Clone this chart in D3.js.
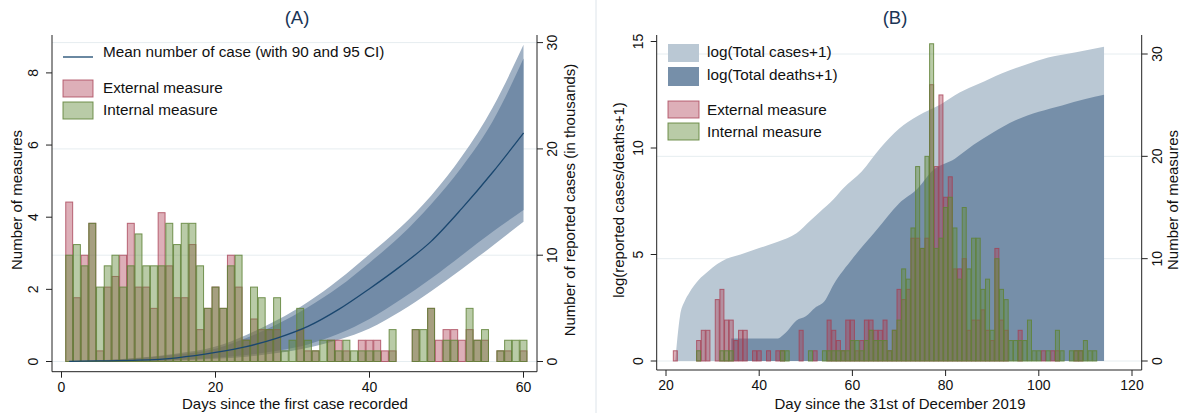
<!DOCTYPE html>
<html><head><meta charset="utf-8">
<script src="https://cdn.jsdelivr.net/npm/d3@7"></script>
<style>body{margin:0;background:#fff;} svg{display:block;font-family:"Liberation Sans",Arial,sans-serif;}</style>
</head><body><svg id="c" width="1182" height="413"></svg>
<script>
// ---------- Panel A data ----------
const daysA = d3.range(1, 61);
const externalA = [15,6,10,13,1,7,8,10,13,7, 7,5,14,9,6,6,11,3,5,7, 5,10,7,2,4,3,3,3,0,0, 3,1,1,0,2,2,1,0,2,2, 2,1,1,0,0,3,0,5,2,3, 3,2,3,2,2,0,1,1,0,1];
const internalA = [10,11,9,13,7,9,10,7,9,12, 9,9,9,13,11,13,13,9,5,7, 5,9,10,2,7,6,3,6,1,2, 5,2,1,2,2,1,2,1,1,1, 1,0,3,0,0,3,3,5,0,2, 2,0,5,2,3,0,1,2,2,2];
const bandDays = [1,5,10,15,20,24,28,32,36,40,44,48,52,56,60];
const meanCases = [0.02,0.05,0.12,0.35,0.85,1.4,2.2,3.3,4.9,6.85,8.95,11.3,14.4,17.8,21.5];
const hi95 = [0.05,0.12,0.35,0.75,1.4,2.5,3.9,5.6,7.7,10.1,12.6,15.6,19.3,23.9,29.8];
const hi90 = [0.04,0.1,0.3,0.65,1.2,2.2,3.5,5.1,7.0,9.3,11.8,14.8,18.3,22.6,28.5];
const lo90 = [0.0,0.02,0.05,0.15,0.35,0.6,1.0,1.6,2.6,4.0,5.8,7.8,10.0,12.2,14.25];
const lo95 = [0.0,0.01,0.03,0.1,0.25,0.45,0.8,1.3,2.05,3.1,4.7,6.6,8.7,10.9,13.15];
const ticksAx = [0,20,40,60];
const ticksAleft = [0,2,4,6,8];
const ticksAright = [0,10,20,30];

// ---------- Panel B data ----------
const daysB = d3.range(22, 113);
const externalB = [1,0,0,0,0,2,3,3,0,6, 7,4,4,2,3,3,0,1,1,0, 1,0,1,1,0,0,0,3,0,0, 1,0,0,4,3,2,1,4,4,1, 2,4,4,3,3,4,1,3,7,6, 7,12,12,11,12,27,19,26,16,18, 9,9,10,3,4,4,5,3,2,11, 4,3,0,0,3,0,0,0,0,1, 0,1,1,0,0,0,1,1,0,0,0];
const internalB = [0,0,0,0,0,1,0,0,0,0, 1,1,1,0,0,0,0,0,0,0, 0,0,0,1,1,0,0,0,0,1, 0,0,1,1,1,1,1,1,2,2, 1,2,3,2,2,2,1,3,4,9, 8,13,19,11,20,31,11,12,15,16, 13,8,15,9,12,12,7,8,3,10, 7,6,2,2,2,2,4,1,1,0, 1,0,3,1,0,1,1,1,2,1,1];
const casesDays = [22,23,24,25,27,29,31,33,36,40,44,48,51,53,56,58,62,66,70,74,79,83,87,92,97,102,108,114];
const casesLog = [0,2.1,2.8,3.2,3.8,4.2,4.55,4.8,5.0,5.3,5.6,6.0,6.6,7.0,7.6,8.1,8.9,10.0,10.9,11.5,12.05,12.6,13.0,13.5,13.9,14.25,14.5,14.75];
const deathsDays = [34,44,45,46,48,50,52,54,56,60,65,70,74,77,82,86,90,95,100,105,110,114];
const deathsLog = [1.06,1.06,1.2,1.4,1.9,2.1,2.5,2.8,3.6,4.8,6.1,7.4,8.1,8.9,9.5,10.15,10.7,11.3,11.7,12.0,12.3,12.5];
const ticksBx = [20,40,60,80,100,120];
const ticksBleft = [0,5,10,15];
const ticksBright = [0,10,20,30];

// ---------- styles ----------
const NAVY = "#1a476f";
const BAND95 = "#a0b1c4", BAND90 = "#728ba7";
const CASES = "#bac8d4", DEATHS = "#768fa9";
const RED_FILL = "rgba(175,65,85,0.42)", RED_STROKE = "rgba(165,60,80,0.75)";
const GRN_FILL = "rgba(100,140,60,0.45)", GRN_STROKE = "rgba(95,130,55,0.85)";
const GRID = "#e6edf0", AXIS = "#222";
const TITLE_SIZE = 15, LEG_SIZE = 15.3;

const svg = d3.select("#c");

svg.append("line").attr("x1",596).attr("x2",596).attr("y1",0).attr("y2",413).attr("stroke","#dde4ea").attr("stroke-width",1);

function vText(g, x, y, txt, size){
  g.append("text").attr("transform",`translate(${x},${y}) rotate(-90)`)
   .attr("text-anchor","middle").attr("font-size",size).attr("fill","#111").text(txt);
}
function yAxis(g, scale, ticks, x, side, labOff){
  ticks.forEach(t=>{
    const y = scale(t);
    g.append("line").attr("x1",x).attr("x2",x + (side==="left"?-6:6)).attr("y1",y).attr("y2",y).attr("stroke",AXIS);
    g.append("text").attr("transform",`translate(${x+labOff},${y}) rotate(-90)`).attr("text-anchor","middle")
      .attr("font-size",14).attr("fill","#111").text(t);
  });
}
function xAxis(g, scale, ticks, y){
  ticks.forEach(t=>{
    const x = scale(t);
    g.append("line").attr("x1",x).attr("x2",x).attr("y1",y).attr("y2",y+6).attr("stroke",AXIS);
    g.append("text").attr("x",x).attr("y",y+20).attr("text-anchor","middle").attr("font-size",14).attr("fill","#111").text(t);
  });
}

// ================= Panel A =================
{
  const L = 52, R = 537, T = 35, B = 371.7;
  const x = d3.scaleLinear().domain([0,60]).range([61.5, 523.5]);
  const yR = d3.scaleLinear().domain([0,30]).range([361.5, 42.6]);
  const yL = d3.scaleLinear().domain([0,8]).range([361.5, 72.9]);
  const g = svg.append("g");
  ticksAright.forEach(t=> g.append("line").attr("x1",L).attr("x2",R).attr("y1",yR(t)).attr("y2",yR(t)).attr("stroke",GRID).attr("stroke-width",1));
  const band = (lo, hi) => d3.area().x((d,i)=>x(bandDays[i])).y0((d,i)=>yR(lo[i])).y1((d,i)=>yR(hi[i])).curve(d3.curveMonotoneX)(bandDays);
  g.append("path").attr("d", band(lo95, hi95)).attr("fill", BAND95);
  g.append("path").attr("d", band(lo90, hi90)).attr("fill", BAND90);
  const bw = 7.7*0.9;
  g.selectAll(".ra").data(daysA).enter().filter((d,i)=>externalA[i]>0).append("rect")
    .attr("x", d=>x(d)-bw/2).attr("width", bw)
    .attr("y", d=>yR(externalA[d-1])).attr("height", d=>yR(0)-yR(externalA[d-1]))
    .attr("fill", RED_FILL).attr("stroke", RED_STROKE).attr("stroke-width",1);
  g.selectAll(".ga").data(daysA).enter().filter((d,i)=>internalA[i]>0).append("rect")
    .attr("x", d=>x(d)-bw/2).attr("width", bw)
    .attr("y", d=>yR(internalA[d-1])).attr("height", d=>yR(0)-yR(internalA[d-1]))
    .attr("fill", GRN_FILL).attr("stroke", GRN_STROKE).attr("stroke-width",1);
  g.append("path").attr("d", d3.line().x((d,i)=>x(bandDays[i])).y((d,i)=>yR(meanCases[i])).curve(d3.curveMonotoneX)(bandDays))
    .attr("fill","none").attr("stroke",NAVY).attr("stroke-width",1.3);
  g.append("line").attr("x1",L).attr("x2",L).attr("y1",T).attr("y2",B).attr("stroke",AXIS);
  g.append("line").attr("x1",R).attr("x2",R).attr("y1",T).attr("y2",B).attr("stroke",AXIS);
  g.append("line").attr("x1",L).attr("x2",R).attr("y1",B).attr("y2",B).attr("stroke",AXIS);
  yAxis(g, yL, ticksAleft, L, "left", -14.5);
  yAxis(g, yR, ticksAright, R, "right", 19.5);
  xAxis(g, x, ticksAx, B);
  g.append("text").attr("x",297).attr("y",24).attr("text-anchor","middle").attr("font-size",18.5).attr("fill","#1a3556").text("(A)");
  g.append("text").attr("x",295).attr("y",409).attr("text-anchor","middle").attr("font-size",TITLE_SIZE).attr("fill","#111").text("Days since the first case recorded");
  vText(g, 21.5, 200, "Number of measures", TITLE_SIZE);
  vText(g, 575, 200, "Number of reported cases (in thousands)", TITLE_SIZE);
  g.append("line").attr("x1",63).attr("x2",93).attr("y1",57).attr("y2",57).attr("stroke",NAVY).attr("stroke-width",1.3);
  g.append("rect").attr("x",63).attr("y",80).attr("width",30).attr("height",17).attr("fill",RED_FILL).attr("stroke",RED_STROKE);
  g.append("rect").attr("x",63).attr("y",102).attr("width",30).attr("height",17).attr("fill",GRN_FILL).attr("stroke",GRN_STROKE);
  const lt = [["Mean number of case (with 90 and 95 CI)",57],["External measure",93],["Internal measure",115]];
  lt.forEach(([t,y])=> g.append("text").attr("x",103).attr("y",y).attr("font-size",LEG_SIZE).attr("fill","#111").text(t));
}

// ================= Panel B =================
{
  const L = 656.7, R = 1141.7, T = 35, B = 370;
  const x = d3.scaleLinear().domain([20,120]).range([666, 1132]);
  const yL = d3.scaleLinear().domain([0,15]).range([361, 41.5]);
  const yR = d3.scaleLinear().domain([0,30]).range([361, 54]);
  const g = svg.append("g");
  ticksBright.forEach(t=> g.append("line").attr("x1",L).attr("x2",R).attr("y1",yR(t)).attr("y2",yR(t)).attr("stroke",GRID));
  g.append("path").attr("d", d3.area().x((d,i)=>x(casesDays[i])).y0(yL(0)).y1((d,i)=>yL(casesLog[i])).curve(d3.curveMonotoneX)(casesDays)).attr("fill",CASES);
  g.append("path").attr("d", d3.area().x((d,i)=>x(deathsDays[i])).y0(yL(0)).y1((d,i)=>yL(deathsLog[i])).curve(d3.curveMonotoneX)(deathsDays)).attr("fill",DEATHS);
  const bw = 4.66*0.86;
  g.selectAll(".rb").data(daysB).enter().filter((d,i)=>externalB[i]>0).append("rect")
    .attr("x", d=>x(d)-bw/2).attr("width", bw)
    .attr("y", d=>yR(externalB[d-22])).attr("height", d=>yR(0)-yR(externalB[d-22]))
    .attr("fill", RED_FILL).attr("stroke", RED_STROKE).attr("stroke-width",1);
  g.selectAll(".gb").data(daysB).enter().filter((d,i)=>internalB[i]>0).append("rect")
    .attr("x", d=>x(d)-bw/2).attr("width", bw)
    .attr("y", d=>yR(internalB[d-22])).attr("height", d=>yR(0)-yR(internalB[d-22]))
    .attr("fill", GRN_FILL).attr("stroke", GRN_STROKE).attr("stroke-width",1);
  g.append("line").attr("x1",L).attr("x2",L).attr("y1",T).attr("y2",B).attr("stroke",AXIS);
  g.append("line").attr("x1",R).attr("x2",R).attr("y1",T).attr("y2",B).attr("stroke",AXIS);
  g.append("line").attr("x1",L).attr("x2",R).attr("y1",B).attr("y2",B).attr("stroke",AXIS);
  yAxis(g, yL, ticksBleft, L, "left", -13.5);
  yAxis(g, yR, ticksBright, R, "right", 20);
  xAxis(g, x, ticksBx, B);
  g.append("text").attr("x",895).attr("y",24).attr("text-anchor","middle").attr("font-size",18.5).attr("fill","#1a3556").text("(B)");
  g.append("text").attr("x",900).attr("y",409).attr("text-anchor","middle").attr("font-size",TITLE_SIZE).attr("fill","#111").text("Day since the 31st of December 2019");
  vText(g, 624, 200, "log(reported cases/deaths+1)", TITLE_SIZE);
  vText(g, 1178, 200, "Number of measures", TITLE_SIZE);
  g.append("rect").attr("x",668).attr("y",44).attr("width",31).attr("height",18).attr("fill",CASES);
  g.append("rect").attr("x",668).attr("y",67).attr("width",31).attr("height",19).attr("fill",DEATHS);
  g.append("rect").attr("x",668).attr("y",101).attr("width",31).attr("height",17).attr("fill",RED_FILL).attr("stroke",RED_STROKE);
  g.append("rect").attr("x",668).attr("y",123).attr("width",31).attr("height",17).attr("fill",GRN_FILL).attr("stroke",GRN_STROKE);
  const lt = [["log(Total cases+1)",57],["log(Total deaths+1)",80],["External measure",115],["Internal measure",137]];
  lt.forEach(([t,y])=> g.append("text").attr("x",707).attr("y",y).attr("font-size",LEG_SIZE).attr("fill","#111").text(t));
}
</script></body></html>
